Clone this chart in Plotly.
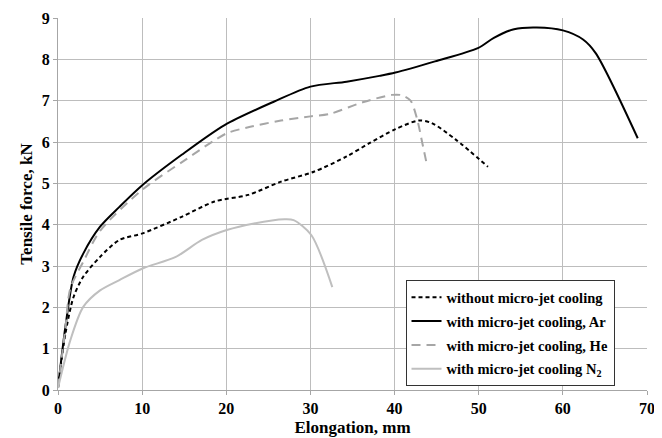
import plotly.graph_objects as go

# Data
x_without = [0, 0.88, 1.85, 3.0, 5.0, 7.3, 10.05, 14.7, 18.6, 22.6, 26.5, 30.4, 34.3, 37.0, 40.1, 42.9, 44.4, 47.2, 51.1]
y_without = [0.05, 1.36, 2.25, 2.74, 3.22, 3.63, 3.79, 4.19, 4.56, 4.72, 5.04, 5.28, 5.65, 5.97, 6.31, 6.52, 6.46, 6.07, 5.40]

x_ar = [0, 0.88, 1.85, 3.0, 5.0, 7.3, 10.05, 14.7, 19.8, 25.7, 30.0, 34.3, 38.2, 40.1, 44.8, 49.9, 51.8, 54.2, 56.9, 60.0, 62.4, 63.9, 68.9]
y_ar = [0.05, 1.53, 2.74, 3.30, 3.95, 4.43, 4.96, 5.69, 6.41, 6.98, 7.34, 7.46, 7.60, 7.68, 7.95, 8.27, 8.52, 8.73, 8.77, 8.70, 8.48, 8.15, 6.09]

x_he = [0, 0.88, 1.46, 3.0, 5.0, 10.0, 15.0, 20.05, 22.5, 26.5, 30.0, 32.3, 36.2, 39.7, 40.9, 41.9, 42.7, 43.3, 43.8]
y_he = [0.05, 1.5, 2.45, 3.1, 3.85, 4.84, 5.55, 6.21, 6.35, 6.52, 6.62, 6.68, 6.96, 7.14, 7.13, 7.00, 6.54, 5.97, 5.49]

x_n2 = [0, 1.46, 3.0, 5.0, 7.3, 10.05, 14.0, 17.1, 20.05, 23.3, 26.9, 28.0, 30.1, 32.6]
y_n2 = [0.05, 1.2, 2.01, 2.41, 2.66, 2.94, 3.22, 3.63, 3.87, 4.03, 4.13, 4.11, 3.75, 2.49]

names = ["without micro-jet cooling", "with micro-jet cooling, Ar",
         "with micro-jet cooling, He", "with micro-jet cooling N<sub>2</sub>"]

x_ticks = [0, 10, 20, 30, 40, 50, 60, 70]
y_ticks = [0, 1, 2, 3, 4, 5, 6, 7, 8, 9]

SERIF = "Liberation Serif"

fig = go.Figure()
series = [
    (x_without, y_without, "black", "4px,3px"),
    (x_ar, y_ar, "black", "solid"),
    (x_he, y_he, "#A6A6A6", "9px,6px"),
    (x_n2, y_n2, "#BFBFBF", "solid"),
]
for i, (xs, ys, col, dash) in enumerate(series):
    fig.add_trace(go.Scatter(
        x=xs, y=ys, mode="lines", name="<b>" + names[i] + "</b>", legendgroup=f"g{i}",
        line=dict(color=col, width=2, dash=dash, shape="spline", smoothing=0.8),
    ))

axis_common = dict(
    showgrid=True, gridcolor="#BDBDBD", gridwidth=1,
    showline=True, linecolor="#A6A6A6", linewidth=1,
    ticks="outside", ticklen=4, tickcolor="#A6A6A6",
    tickfont=dict(family=SERIF, size=16, color="black"),
    zeroline=False,
)

fig.update_layout(
    width=654, height=430,
    margin=dict(l=49.5, r=15, t=10, b=48, autoexpand=False),
    paper_bgcolor="white", plot_bgcolor="white",
    showlegend=True,
    legend=dict(
        x=0.59, y=0.295, xanchor="left", yanchor="top",
        bordercolor="#333333", borderwidth=1, bgcolor="white",
        font=dict(family=SERIF, size=14.5, color="black"),
        tracegroupgap=2, itemwidth=30,
    ),
    xaxis=dict(
        range=[0, 70], tickvals=x_ticks, ticktext=[f"<b>{v}</b>" for v in x_ticks],
        ticklabeloverflow="allow",
        title=dict(text="<b>Elongation, mm</b>", standoff=4,
                   font=dict(family=SERIF, size=17, color="black")),
        **axis_common,
    ),
    yaxis=dict(
        range=[0, 9], tickvals=y_ticks, ticktext=[f"<b>{v}</b>" for v in y_ticks],
        title=dict(text="<b>Tensile force, kN</b>", standoff=4,
                   font=dict(family=SERIF, size=17, color="black")),
        **axis_common,
    ),
)

fig.write_html("out.html")
